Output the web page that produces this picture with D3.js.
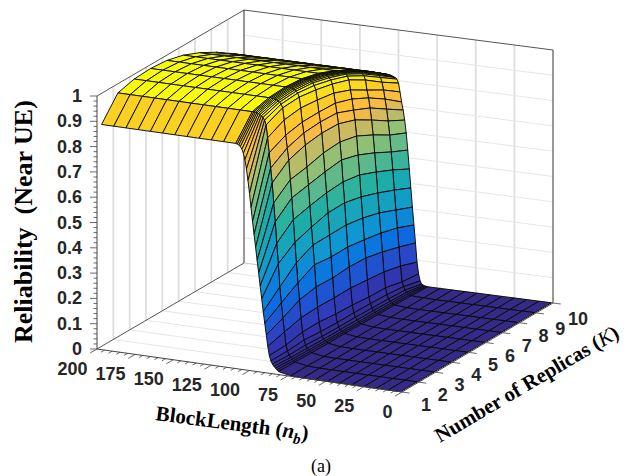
<!DOCTYPE html>
<html><head><meta charset="utf-8">
<script src="https://cdn.jsdelivr.net/npm/d3@7"></script>
<style>html,body{margin:0;padding:0;background:#fff}svg{display:block}</style>
</head><body><svg id="c" width="627" height="476"></svg>
<script>
const blockLengths = [1,9,17,25,33,41,49,57,65,73,81,82,83,84,85,86,87,88,89,90,91,92,93,94,95,96,97,98,99,100,101,102,103,104,105,106,107,108,109,117,125,133,141,149,157,165,173,181,189,197];
const replicas = [1,2,3,4,5,6,7,8,9,10];
const relK1  = [0,0,0,0,0,0,0,0,0,.002,.012,.018,.024,.03,.038,.05,.07,.105,.15,.195,.24,.29,.34,.39,.44,.49,.54,.59,.645,.7,.75,.795,.83,.855,.87,.88,.885,.888,.89,.89,.89,.89,.89,.89,.89,.89,.89,.89,.89,.89];
const relK2  = [0,0,0,0,0,0,0,0,0,.002,.011,.015,.02,.026,.035,.05,.073,.124,.178,.237,.299,.39,.47,.554,.628,.706,.764,.823,.882,.932,.95,.96,.966,.97,.973,.975,.976,.977,.977,.977,.977,.977,.977,.977,.977,.977,.977,.977,.977,.977];
const relK3  = [0,0,0,0,0,0,0,0,0,.001,.009,.013,.018,.024,.036,.055,.086,.141,.211,.278,.356,.436,.525,.61,.681,.758,.805,.855,.914,.961,.975,.982,.986,.989,.991,.992,.993,.994,.994,.994,.994,.994,.994,.994,.994,.994,.994,.994,.994,.994];
const relK4  = [0,0,0,0,0,0,0,0,0,.001,.008,.012,.016,.022,.032,.05,.087,.145,.224,.311,.388,.458,.541,.623,.693,.779,.826,.868,.923,.965,.98,.987,.991,.994,.996,.997,.998,.998,.998,.998,.998,.998,.998,.998,.998,.998,.998,.998,.998,.998];
const relK5  = [0,0,0,0,0,0,0,0,0,.001,.008,.011,.015,.021,.03,.047,.08,.143,.221,.303,.389,.476,.554,.636,.71,.788,.831,.869,.916,.955,.972,.981,.985,.988,.99,.991,.992,.992,.992,.992,.992,.992,.992,.992,.992,.992,.992,.992,.992,.992];
const relK6  = [0,0,0,0,0,0,0,0,0,.001,.007,.01,.014,.02,.03,.047,.077,.144,.226,.304,.39,.477,.559,.645,.715,.786,.828,.866,.905,.94,.955,.963,.967,.97,.972,.974,.975,.975,.975,.975,.975,.975,.975,.975,.975,.975,.975,.975,.975,.975];
const relK7  = [0,0,0,0,0,0,0,0,0,.001,.006,.009,.013,.019,.028,.045,.07,.137,.223,.294,.379,.462,.548,.626,.7,.763,.801,.844,.879,.918,.932,.939,.942,.944,.945,.946,.947,.947,.947,.947,.947,.947,.947,.947,.947,.947,.947,.947,.947,.947];
const relK8  = [0,0,0,0,0,0,0,0,0,.001,.005,.008,.012,.017,.026,.042,.068,.13,.208,.282,.361,.439,.521,.596,.666,.724,.771,.81,.84,.879,.895,.902,.906,.908,.909,.91,.911,.911,.911,.911,.911,.911,.911,.911,.911,.911,.911,.911,.911,.911];
const relK9  = [0,0,0,0,0,0,0,0,0,.001,.003,.006,.01,.014,.022,.035,.053,.115,.189,.264,.334,.412,.491,.561,.627,.682,.728,.767,.802,.832,.85,.857,.861,.864,.866,.867,.868,.868,.868,.868,.868,.868,.868,.868,.868,.868,.868,.868,.868,.868];
const relK10 = [0,0,0,0,0,0,0,0,0,0,0,.001,.002,.004,.008,.019,.046,.092,.167,.237,.307,.382,.456,.53,.597,.647,.686,.717,.756,.79,.805,.81,.813,.815,.817,.818,.819,.819,.819,.819,.819,.819,.819,.819,.819,.819,.819,.819,.819,.819];
const reliability = [relK1,relK2,relK3,relK4,relK5,relK6,relK7,relK8,relK9,relK10];
const plateauColorLift = [0,.02,.006,.002,.008,.025,.053,.089,.132,.181];
const plateauByK = [.89,.977,.994,.998,.992,.975,.947,.911,.868,.819];

const zTicks = [0,.1,.2,.3,.4,.5,.6,.7,.8,.9,1];
const zTickLabels = ["0","0.1","0.2","0.3","0.4","0.5","0.6","0.7","0.8","0.9","1"];
const nbTicks = [0,25,50,75,100,125,150,175,200];
const kTicks = [1,2,3,4,5,6,7,8,9,10];
const colorStops = [0,.06,.1,.2,.3,.45,.62,.72,.78,.82,.89,.97,1];
const colorValues = ["#352a87","#3232aa","#2d41c3","#0a6ee1","#0f96d2","#1eafa5","#8cc078","#d2b95f","#f5bb46","#ffbe37","#fad023","#f9f50f","#f9fb0e"];

const svg = d3.select("#c");
const uScale = d3.scaleLinear().domain([0,200]).range([0,1]);
const vScale = d3.scaleLinear().domain([1,10]).range([0,1]);
const zScale = d3.scaleLinear().domain([0,1]).range([0,253]);
const color = d3.scaleLinear().domain(colorStops).range(colorValues).interpolate(d3.interpolateRgb).clamp(true);

const C00=[402,392],C10=[97,349],C01=[553,303],C11=[244,263];
function proj(nb,k,z){
  const u=uScale(nb),v=vScale(k);
  const x=(1-u)*(1-v)*C00[0]+u*(1-v)*C10[0]+(1-u)*v*C01[0]+u*v*C11[0];
  const y=(1-u)*(1-v)*C00[1]+u*(1-v)*C10[1]+(1-u)*v*C01[1]+u*v*C11[1];
  return [x,y-zScale(z)];
}
const line=(a,b,col,w,g)=>(g||svg).append("line").attr("x1",a[0]).attr("y1",a[1]).attr("x2",b[0]).attr("y2",b[1]).attr("stroke",col).attr("stroke-width",w);

// walls: grid
const GL="#dedede", GT="#e6e6e6";
kTicks.slice(1,-1).forEach(k=>line(proj(200,k,0),proj(200,k,1),GL,1.8));
nbTicks.slice(1,-1).forEach(n=>line(proj(n,10,0),proj(n,10,1),GL,1.8));
zTicks.slice(1,-1).forEach(z=>line(proj(0,10,z),proj(200,10,z),GT,1));
kTicks.slice(1,-1).forEach(k=>line(proj(0,k,0),proj(200,k,0),GT,1));

// box
const AX="#555";
line(proj(200,1,1),proj(200,10,1),AX,1);
line(proj(200,10,1),proj(0,10,1),AX,1);
line(proj(200,10,0),proj(200,10,1),"#333",1);
line(proj(200,1,0),proj(200,10,0),AX,1);
line(proj(200,10,0),proj(0,10,0),"#bbb",.8);
line(proj(0,10,0),proj(0,10,1),"#333",1);
line(proj(200,1,0),proj(200,1,1),"#444",1);

// surface
const gs=svg.append("g");
for(let i=blockLengths.length-2;i>=0;i--){
  for(let j=replicas.length-2;j>=0;j--){
    const z=reliability, n0=blockLengths[i],n1=blockLengths[i+1],k0=replicas[j],k1=replicas[j+1];
    const pts=[proj(n0,k0,z[j][i]),proj(n1,k0,z[j][i+1]),proj(n1,k1,z[j+1][i+1]),proj(n0,k1,z[j+1][i])];
    const v=z[j][i];
    const t=Math.min(1,Math.max(0,(v-.6)/(plateauByK[j]-.6)));
    const c=v+plateauColorLift[j]*t*t*t;
    gs.append("path").attr("d",d3.line()(pts)+"Z").attr("fill",color(c)).attr("stroke","#0a0a0a").attr("stroke-width",.95).attr("stroke-linejoin","round");
  }
}
// front axes
line(proj(200,1,0),proj(0,1,0),"#444",1);
line(proj(0,1,0),proj(0,10,0),"#444",1);

// ticks
const TXT="#262626";
d3.range(0,1.0001,.02).forEach(z=>{const p=proj(200,1,z);const maj=Math.abs(z*10-Math.round(z*10))<1e-6;line([p[0]-(maj?7:3.5),p[1]],p,"#444",.8);});
d3.range(0,201,5).forEach(n=>{const p=proj(n,1,0);const maj=n%25==0;const l=maj?.42:.22;const q=proj(n,1-l,0);line(p,q,"#444",.8);});
kTicks.forEach(k=>{const p=proj(0,k,0);const q=proj(-5,k,0);line(p,q,"#444",.8);});

const lab=(x,y,t,a)=>svg.append("text").attr("x",x).attr("y",y).attr("text-anchor",a).attr("dominant-baseline","central").attr("font-family","Liberation Sans").attr("font-weight","bold").attr("font-size",18).attr("fill",TXT).text(t);
zTicks.forEach((z,i)=>{const p=proj(200,1,z);lab(82,p[1],zTickLabels[i],"end");});
nbTicks.forEach(n=>{const p=proj(n,1,0);lab(p[0]-9.5,p[1]+19.5,n,"end");});
kTicks.forEach(k=>{const p=proj(0,k,0);lab(p[0]+(k==10?15:19),p[1]+13+(k>8?3:0),k,"start");});

// titles
const serif="Liberation Serif";
svg.append("text").attr("transform","translate(32,343) rotate(-90)").attr("font-family",serif).attr("font-weight","bold").attr("font-size",26).attr("fill","#000").attr("xml:space","preserve").text("Reliability  (Near UE)");
const t1=svg.append("text").attr("transform","translate(155,420) rotate(7.5)").attr("font-family",serif).attr("font-weight","bold").attr("font-size",21).attr("fill","#000");
t1.append("tspan").text("BlockLength (");
t1.append("tspan").attr("font-style","italic").text("n");
t1.append("tspan").attr("font-style","italic").attr("font-size",15).attr("dy",5).text("b");
t1.append("tspan").attr("dy",-5).text(")");
const t2=svg.append("text").attr("transform","translate(440,443) rotate(-30.5)").attr("font-family",serif).attr("font-weight","bold").attr("font-size",20.8).attr("fill","#000");
t2.append("tspan").text("Number of Replicas (");
t2.append("tspan").attr("font-style","italic").attr("font-weight","normal").text("K");
t2.append("tspan").text(")");
svg.append("text").attr("x",321).attr("y",472).attr("text-anchor","middle").attr("font-family",serif).attr("font-size",18).attr("fill","#000").text("(a)");
</script></body></html>
